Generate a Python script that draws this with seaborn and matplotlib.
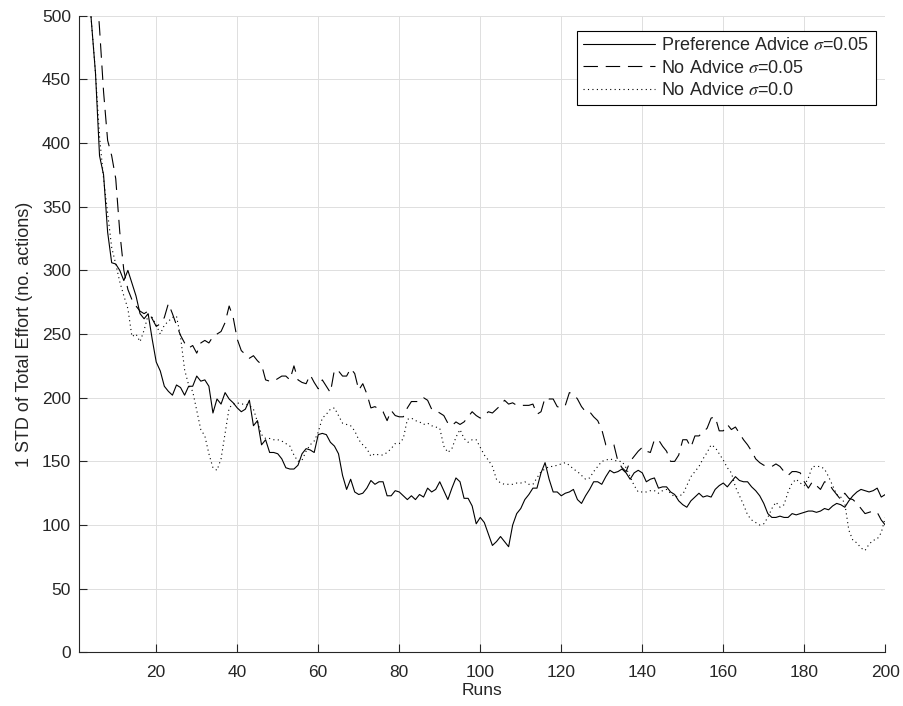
import numpy as np
import pandas as pd
import seaborn as sns
import matplotlib
matplotlib.use("Agg")
import matplotlib.pyplot as plt

# Per-run standard deviation of total effort (number of actions), runs 1..200
runs = list(range(1, 201))

pref_advice_005 = [
    650, 590, 535, 495, 455, 390, 375, 330, 306, 305,
    300, 292, 300, 290, 280, 266, 262, 266, 246, 228,
    221, 209, 205, 202, 210, 208, 202, 209, 209, 217,
    213, 214, 209, 188, 199, 195, 204, 199, 196, 192,
    189, 191, 198, 178, 182, 163, 167, 157, 157, 156,
    152, 145, 144, 144, 147, 156, 160, 159, 157, 171,
    172, 171, 165, 162, 156, 139, 128, 136, 126, 124,
    125, 129, 135, 132, 134, 134, 123, 123, 127, 126,
    123, 120, 123, 120, 124, 122, 129, 126, 128, 134,
    127, 120, 129, 137, 134, 121, 121, 115, 101, 106,
    102, 93, 84, 87, 91, 87, 83, 100, 109, 113,
    120, 124, 129, 129, 141, 149, 136, 126, 126, 123,
    125, 126, 128, 120, 117, 123, 128, 134, 134, 132,
    138, 143, 141, 142, 144, 141, 136, 141, 143, 141,
    134, 136, 137, 129, 130, 130, 126, 124, 119, 116,
    114, 119, 122, 125, 122, 123, 122, 128, 131, 133,
    130, 134, 138, 135, 134, 134, 130, 127, 123, 117,
    109, 106, 106, 107, 106, 106, 109, 108, 109, 110,
    111, 111, 110, 111, 113, 112, 115, 117, 116, 114,
    119, 123, 126, 128, 127, 126, 127, 129, 122, 124,
]

no_advice_005 = [
    700, 660, 620, 575, 535, 490, 440, 402, 390, 372,
    330, 300, 285, 277, 272, 268, 266, 268, 262, 256,
    258, 263, 274, 266, 257, 249, 243, 239, 241, 235,
    243, 245, 243, 248, 250, 252, 259, 272, 263, 246,
    237, 234, 231, 233, 229, 226, 214, 213, 213, 215,
    217, 217, 214, 225, 214, 212, 211, 218, 212, 207,
    214, 209, 204, 222, 221, 217, 217, 223, 219, 206,
    211, 203, 192, 193, 191, 189, 182, 190, 186, 185,
    185, 192, 197, 197, 197, 200, 198, 191, 190, 188,
    186, 180, 178, 181, 179, 181, 185, 189, 186, 184,
    186, 189, 188, 191, 194, 198, 195, 196, 194, 194,
    194, 194, 195, 187, 189, 200, 199, 199, 193, 192,
    194, 204, 203, 199, 193, 189, 189, 185, 182, 175,
    163, 163, 163, 150, 145, 142, 150, 154, 158, 161,
    158, 157, 167, 167, 162, 158, 150, 150, 155, 167,
    167, 161, 170, 170, 173, 176, 184, 185, 174, 174,
    179, 175, 177, 172, 167, 163, 158, 152, 149, 147,
    146, 146, 148, 146, 142, 139, 142, 142, 141, 134,
    129, 134, 131, 128, 134, 133, 128, 124, 120, 125,
    121, 120, 117, 113, 109, 110, 111, 110, 104, 100,
]

no_advice_000 = [
    640, 590, 540, 495, 455, 405, 372, 345, 318, 305,
    291, 280, 270, 248, 250, 244, 253, 265, 263, 257,
    250, 257, 260, 263, 264, 248, 222, 210, 205, 190,
    175, 170, 156, 145, 143, 152, 172, 192, 195, 196,
    195, 195, 194, 191, 181, 171, 168, 168, 167, 167,
    166, 164, 162, 155, 150, 151, 158, 163, 166, 173,
    184, 187, 191, 192, 186, 180, 179, 178, 174, 167,
    163, 160, 154, 156, 155, 155, 157, 160, 164, 164,
    168, 183, 184, 182, 181, 179, 180, 178, 177, 176,
    162, 157, 160, 169, 175, 168, 165, 167, 167, 161,
    155, 151, 146, 136, 133, 132, 132, 132, 133, 133,
    134, 132, 132, 137, 142, 144, 146, 146, 147, 148,
    149, 147, 144, 142, 139, 136, 137, 142, 146, 150,
    151, 152, 151, 150, 150, 145, 138, 131, 126, 126,
    126, 127, 127, 125, 127, 128, 125, 122, 123, 124,
    131, 138, 142, 146, 152, 157, 163, 161, 156, 151,
    145, 141, 130, 123, 116, 108, 104, 102, 100, 101,
    106, 113, 118, 114, 116, 126, 133, 136, 133, 131,
    137, 146, 146, 146, 144, 138, 131, 124, 122, 117,
    96, 88, 86, 82, 80, 85, 88, 89, 94, 106,
]

series_labels = [
    r"Preference Advice $\sigma$=0.05",
    r"No Advice $\sigma$=0.05",
    r"No Advice $\sigma$=0.0",
]

x_ticks = list(range(20, 201, 20))
y_ticks = list(range(0, 501, 50))

sns.set_theme(style="white")
plt.rcParams["font.family"] = ["Liberation Sans", "DejaVu Sans"]
plt.rcParams["mathtext.fontset"] = "stix"

fig = plt.figure(figsize=(9.04, 7.06), dpi=100)
ax = fig.add_axes([0.0877, 0.0759, 0.8916, 0.9019])

df = pd.DataFrame({
    "run": runs,
    "pref": pref_advice_005,
    "na005": no_advice_005,
    "na000": no_advice_000,
})

line_kw = dict(color="black", linewidth=0.8, ax=ax)
sns.lineplot(data=df, x="run", y="pref", label=series_labels[0],
             linestyle="-", **line_kw)
sns.lineplot(data=df, x="run", y="na005", label=series_labels[1],
             linestyle=(0, (13, 7)), **line_kw)
sns.lineplot(data=df, x="run", y="na000", label=series_labels[2],
             linestyle=(0, (1, 3)), **line_kw)

ax.set_xlim(1, 200)
ax.set_ylim(0, 500)
ax.set_xticks(x_ticks)
ax.set_yticks(y_ticks)

ax.grid(True, color="#dedede", linewidth=0.7)
ax.set_axisbelow(True)

for side in ("top", "right"):
    ax.spines[side].set_visible(False)
for side in ("left", "bottom"):
    ax.spines[side].set_color("#262626")
    ax.spines[side].set_linewidth(0.8)

ax.tick_params(axis="both", direction="in", length=6, width=0.8,
               colors="#262626", labelsize=12.5, bottom=True, left=True)
ax.tick_params(axis="x", pad=9)
ax.tick_params(axis="y", pad=6)

ax.set_xlabel("Runs", fontsize=12.5, color="#262626", labelpad=2)
ax.set_ylabel("1 STD of Total Effort (no. actions)", fontsize=13,
              color="#262626", labelpad=6)

leg = ax.legend(loc="upper right", bbox_to_anchor=(0.988, 0.976),
                fontsize=13, frameon=True, fancybox=False,
                edgecolor="black", framealpha=1, borderpad=0.35,
                handlelength=4.0, handletextpad=0.35, labelspacing=0.3,
                borderaxespad=0)
leg.get_frame().set_linewidth(0.8)

fig.savefig("out.png", dpi=100)
